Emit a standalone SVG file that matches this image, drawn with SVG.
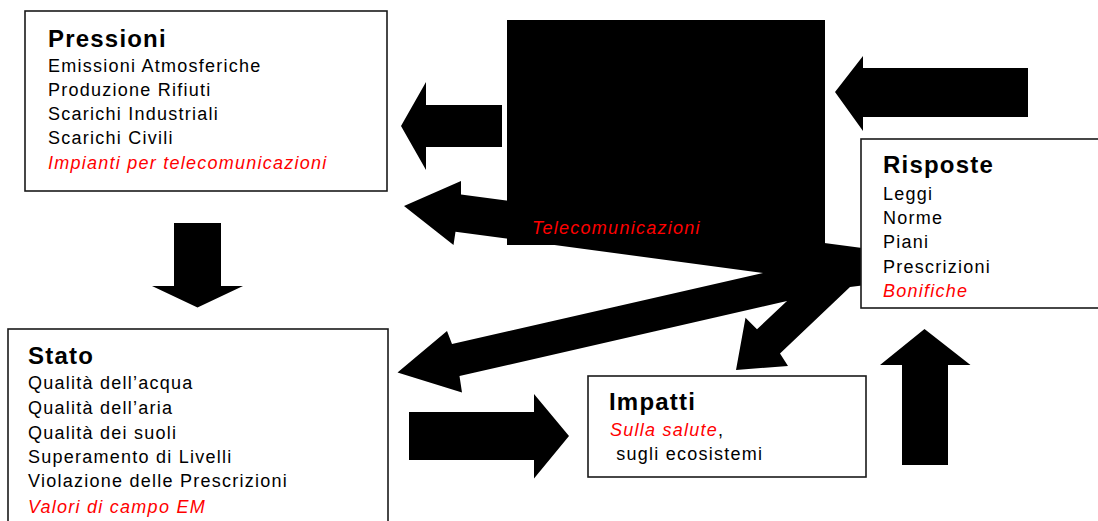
<svg xmlns="http://www.w3.org/2000/svg" width="1098" height="521" viewBox="0 0 1098 521">
<style>
.box{fill:#fff;stroke:#1a1a1a;stroke-width:1.6}
.t{font-family:"Liberation Sans",Arial,sans-serif;font-size:18px;letter-spacing:1.25px;fill:#000}
.h{font-family:"Liberation Sans",Arial,sans-serif;font-size:24px;font-weight:bold;letter-spacing:1.2px;fill:#000}
.r{fill:#ff0000;font-style:italic}
.arrow{fill:#000}
</style>
<rect width="1098" height="521" fill="#fff"/>
<g id="center">
<rect x="507" y="20" width="318" height="225" fill="#000"/>
</g>
<g id="connectors">
<polygon class="arrow" points="401,126 426,82 426,105 502,105 502,147 426,147 426,170"/>
<polygon class="arrow" points="835,92 863,56 863,68 1028,68 1028,117 863,117 863,131"/>
<polygon class="arrow" points="174,223 221,223 221,286 243,286 197.5,307.5 152,286 174,286"/>
<polygon class="arrow" points="409,412 534,412 534,394 569,436 534,478.5 534,460 409,460"/>
<polygon class="arrow" points="902,465 902,365 880,365 924.5,329 970.5,365 948,365 948,465"/>
<polygon class="arrow" points="404,206 461,181 461,194.5 866,248.5 866,285 850,287 780,353.5 788,366 736,370 745.5,317.7 757,329.3 787,301 459.5,376 462,392.5 397.5,372.5 447,331 452,344 763,273 455.5,231.7 453.5,245"/>
<text class="t r" x="532" y="234">Telecomunicazioni</text>
</g>
<g id="pressioni">
<rect class="box" x="25" y="11" width="362" height="180"/>
<text class="h" x="48" y="47">Pressioni</text>
<text class="t" x="48" y="72">Emissioni Atmosferiche</text>
<text class="t" x="48" y="96">Produzione Rifiuti</text>
<text class="t" x="48" y="120">Scarichi Industriali</text>
<text class="t" x="48" y="144">Scarichi Civili</text>
<text class="t r" x="48" y="168.5">Impianti per telecomunicazioni</text>
</g>
<g id="stato">
<rect class="box" x="8" y="329" width="380" height="200"/>
<text class="h" x="28" y="364">Stato</text>
<text class="t" x="28" y="389">Qualità dell’acqua</text>
<text class="t" x="28" y="413.5">Qualità dell’aria</text>
<text class="t" x="28" y="438.5">Qualità dei suoli</text>
<text class="t" x="28" y="463">Superamento di Livelli</text>
<text class="t" x="28" y="487">Violazione delle Prescrizioni</text>
<text class="t r" x="28" y="512.5">Valori di campo EM</text>
</g>
<g id="risposte">
<rect class="box" x="861" y="139" width="245" height="169"/>
<text class="h" x="883" y="173">Risposte</text>
<text class="t" x="883" y="200">Leggi</text>
<text class="t" x="883" y="223.5">Norme</text>
<text class="t" x="883" y="247.5">Piani</text>
<text class="t" x="883" y="272.5">Prescrizioni</text>
<text class="t r" x="883" y="296.5">Bonifiche</text>
</g>
<g id="impatti">
<rect class="box" x="588" y="376" width="278" height="101"/>
<text class="h" x="609" y="410">Impatti</text>
<text class="t" x="610" y="436"><tspan class="r">Sulla salute</tspan>,</text>
<text class="t" x="610" y="460" xml:space="preserve"> sugli ecosistemi</text>
</g>
</svg>
